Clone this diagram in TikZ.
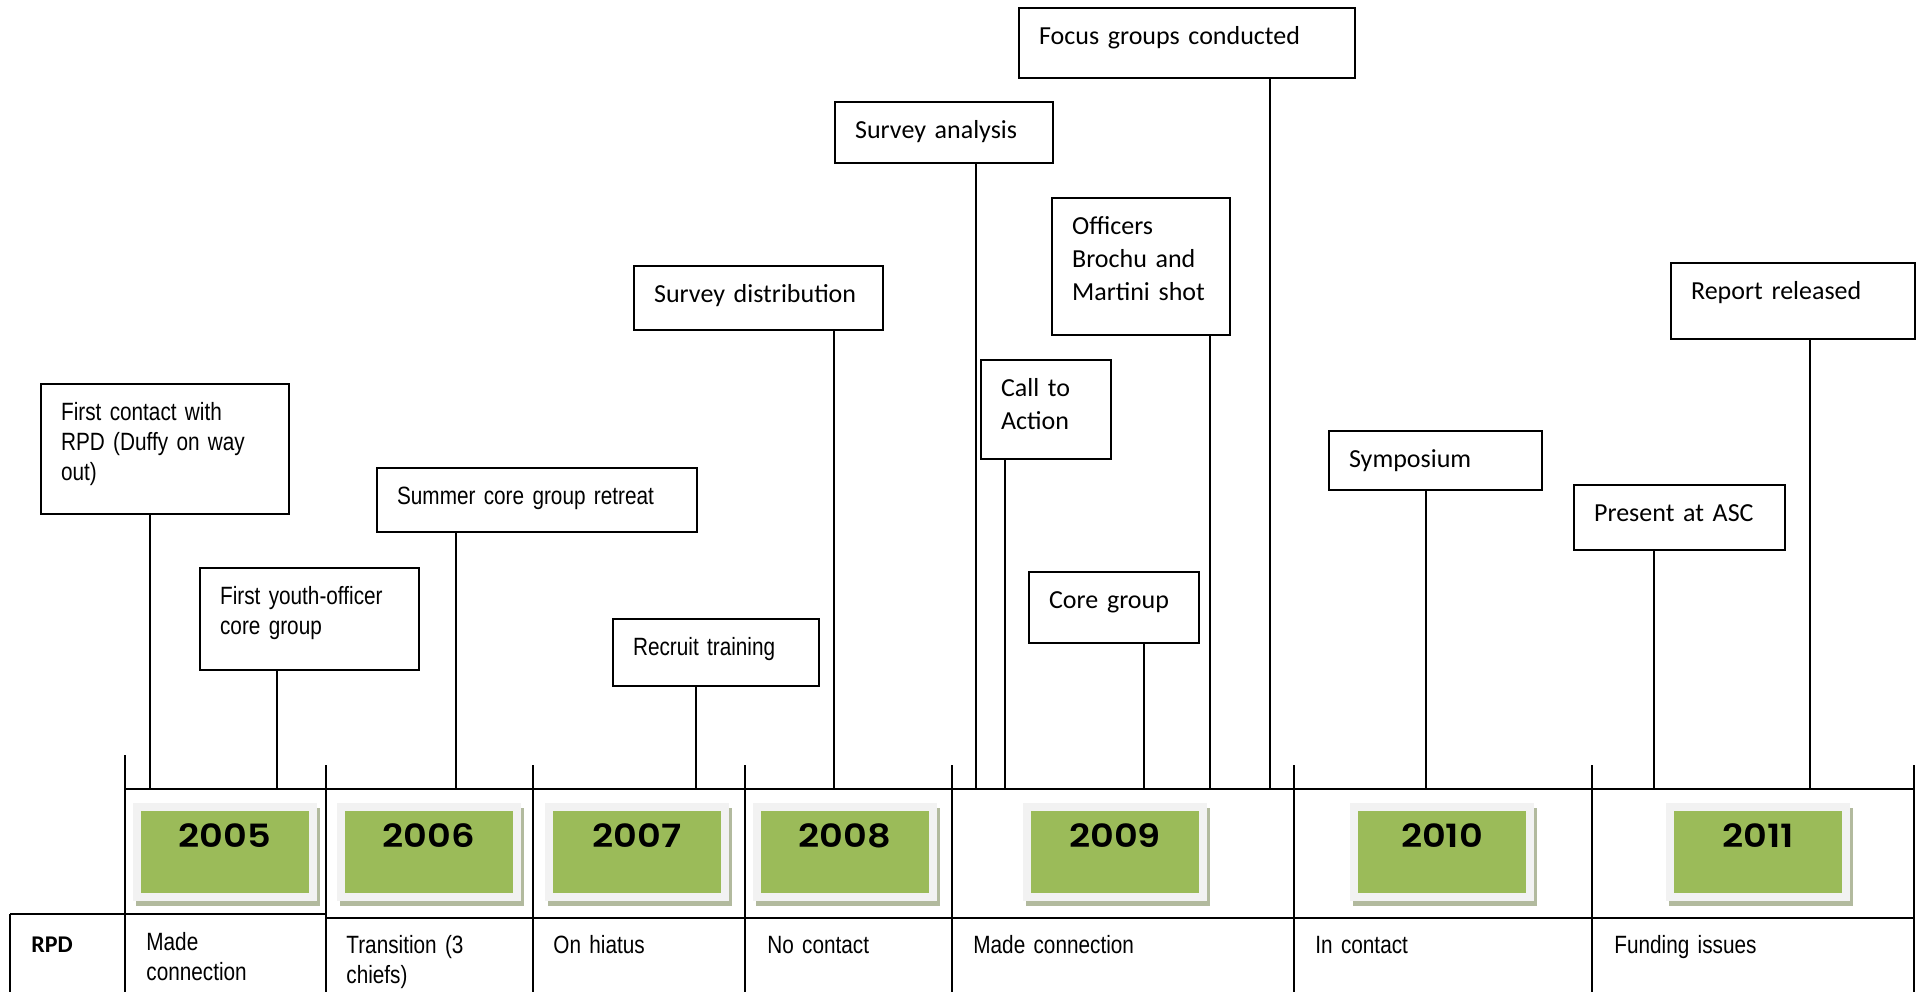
\documentclass[tikz,border=0pt]{standalone}
\usepackage{fontspec}
\setmainfont{Carlito}
\newfontfamily\narrowfont{Liberation Sans}[FakeStretch=0.83]
\newfontfamily\yearfont{Poppins}[FakeStretch=1.15,BoldFont={* SemiBold}]
\definecolor{yeargreen}{HTML}{9BBB59}
\definecolor{yearframe}{HTML}{F2F2F2}
\definecolor{yearshade}{HTML}{B2BA9E}

\begin{document}
\begin{tikzpicture}[x=.5pt,y=-.5pt,
  evbox/.style={draw,line width=1.1pt,anchor=north west,inner xsep=10pt,inner ysep=0pt,text height=18pt,align=left},
  cal/.style={font=\fontsize{13}{16.5}\selectfont},
  nar/.style={font=\narrowfont\fontsize{12.5}{15}\selectfont},
  stem/.style={line width=1pt},
  yearbox/.style={fill=yeargreen,draw=yearframe,line width=4pt,anchor=north,inner sep=0pt,minimum width=88pt,text height=20pt,text depth=25pt,font=\yearfont\bfseries\fontsize{16}{18}\selectfont,preaction={fill=yearshade,draw=yearshade,line width=4pt,transform canvas={shift={(1.5pt,-2.5pt)}}}},
  rowtext/.style={anchor=base west,inner sep=0pt,text width=110pt,align=left,font=\narrowfont\fontsize{12.5}{15}\selectfont}]
\useasboundingbox (0,0) rectangle (1919,992);
% table lines
\draw[stem] (125,789)--(1914,789);\draw[stem] (10,914)--(326,914);\draw[stem] (326,918)--(1914,918);
\draw[stem] (125,755)--(125,992);\draw[stem] (10,914)--(10,992);
\foreach \x in {326,533,745,952,1294,1592,1914} \draw[stem] (\x,765)--(\x,992);
% years
\foreach \yr/\cx in {2005/225,2006/428.5,2007/637,2008/845,2009/1115,2010/1442,2011/1758}
  \node[yearbox] (y\yr) at (\cx,803) {\yr};
% RPD row
\node[rowtext,font=\bfseries\fontsize{12}{15}\selectfont,text width=40pt] (rpd) at (31,952) {RPD};
\node[rowtext] (r2005) at (146,950) {Made\\connection};\node[rowtext] (r2006) at (346,953) {Transition (3\\chiefs)};
\node[rowtext] (r2007) at (553,953) {On hiatus};\node[rowtext] (r2008) at (767,953) {No contact};
\node[rowtext] (r2009) at (973,953) {Made connection};\node[rowtext] (r2010) at (1315,953) {In contact};
\node[rowtext] (r2011) at (1614,953) {Funding issues};
% events
\node[evbox,nar,text width=104pt,text depth=47pt] (contact) at (40,383) {First contact with\\RPD (Duffy on way\\out)};
\node[evbox,nar,text width=89.5pt,text depth=33pt] (youth) at (199,567) {First youth-officer\\core group};
\node[evbox,nar,text width=140pt,text depth=14pt] (retreat) at (376,467) {Summer core group retreat};
\node[evbox,nar,text width=83pt,text depth=15.5pt] (recruit) at (612,618) {Recruit training};
\node[evbox,cal,text width=104.5pt,text depth=14pt] (distrib) at (633,265) {Survey distribution};
\node[evbox,cal,text width=89pt,text depth=12.5pt] (analysis) at (834,101) {Survey analysis};
\node[evbox,cal,text width=148pt,text depth=17pt] (focus) at (1018,7) {Focus groups conducted};
\node[evbox,cal,text width=69pt,text depth=50.5pt] (officers) at (1051,197) {Officers\\Brochu and\\Martini shot};
\node[evbox,cal,text width=45pt,text depth=31.5pt] (action) at (980,359) {Call to\\Action};
\node[evbox,cal,text width=65pt,text depth=17.5pt] (core) at (1028,571) {Core group};
\node[evbox,cal,text width=86.5pt,text depth=11.5pt] (sympo) at (1328,430) {Symposium};
\node[evbox,cal,text width=85.5pt,text depth=14.5pt] (asc) at (1573,484) {Present at ASC};
\node[evbox,cal,text width=102pt,text depth=20pt] (report) at (1670,262) {Report released};
% stems down to the timeline
\foreach \e/\x in {contact/150,youth/277,retreat/456,recruit/696,distrib/834,analysis/976,focus/1270,officers/1210,action/1005,core/1144,sympo/1426,asc/1654,report/1810}{
  \coordinate (t\e) at (\x,789);\draw[stem] (\e.south -| t\e)--(t\e);}
\end{tikzpicture}
\end{document}
